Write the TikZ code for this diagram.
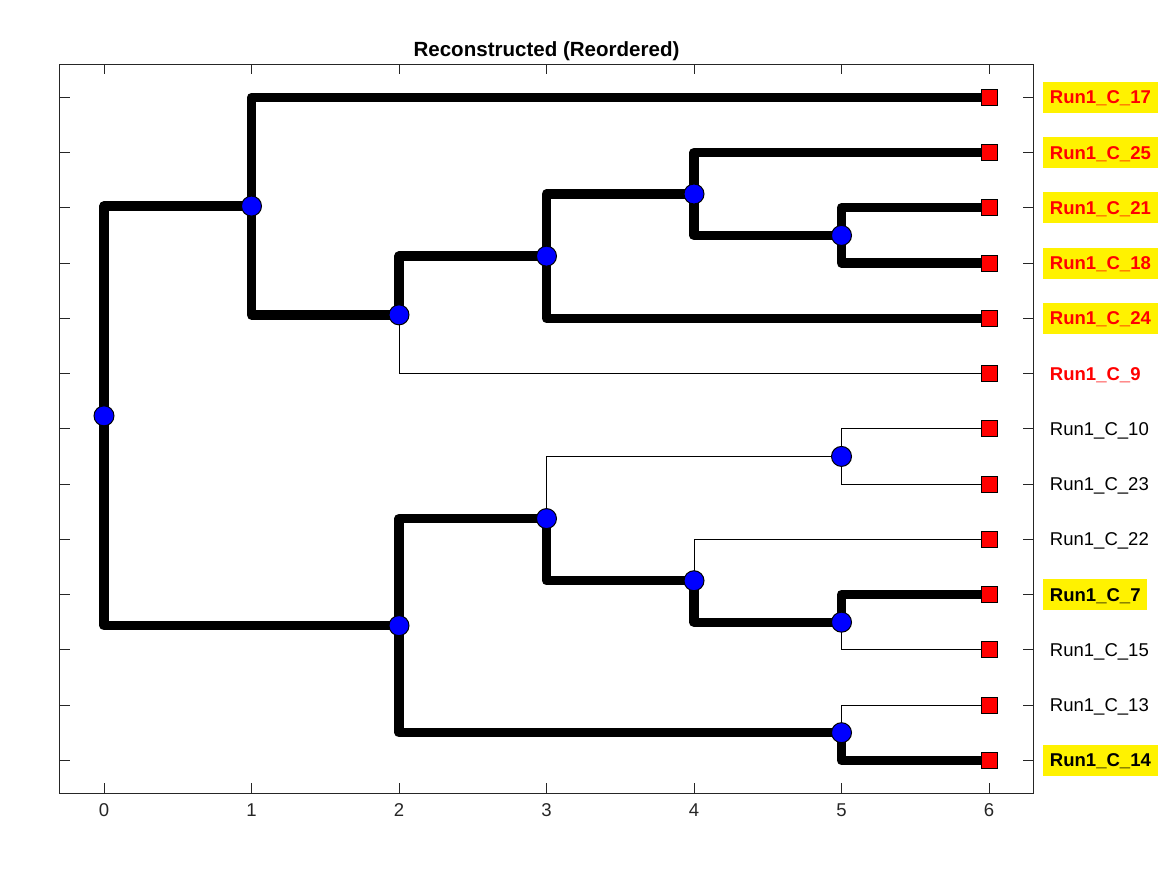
\documentclass[tikz,border=0pt]{standalone}
\usepackage{fontspec}
\setmainfont{Liberation Sans}
\usetikzlibrary{backgrounds}
\definecolor{axisgray}{rgb}{0.15,0.15,0.15}
\tikzset{
  inner/.style={circle,draw=black,fill=blue,line width=0.75pt,minimum size=15pt,inner sep=0pt},
  leaf/.style={rectangle,draw=black,fill=red,line width=0.75pt,minimum size=12pt,inner sep=0pt},
  boldedge/.style={line width=7pt,line join=round,line cap=round,draw=black},
  thinedge/.style={line width=0.75pt,draw=black},
  lab/.style={anchor=west,font=\fontsize{13.9}{16}\selectfont,text height=9.95pt,text depth=0pt,
    minimum height=23.25pt,inner xsep=5pt,inner ysep=0pt},
  hl/.style={fill=yellow},
  redlab/.style={text=red,font=\fontsize{13.9}{16}\selectfont\bfseries},
  boldlab/.style={font=\fontsize{13.9}{16}\selectfont\bfseries},
  axisline/.style={draw=axisgray,line width=0.75pt},
  ticklab/.style={anchor=base,font=\fontsize{13.9}{16}\selectfont,text=axisgray,inner sep=0pt},
  titlelab/.style={anchor=base,font=\fontsize{15.4}{18}\selectfont\bfseries,inner sep=0pt}
}
\begin{document}
\begin{tikzpicture}[x=0.75pt,y=-0.75pt]
\useasboundingbox (0,0) rectangle (1167,875);
\begin{pgfonlayer}{background}
  \fill[white] (0,0) rectangle (1167,875);
\end{pgfonlayer}
\begin{scope}[shift={(104,42.05)},x=110.625pt,y=-41.4375pt]
  % axes frame
  \draw[axisline] (-0.3,0.4) rectangle (6.3,13.6);
  \foreach \r in {1,...,13} {
    \draw[axisline] (-0.3,\r) -- ++(7.5pt,0);
    \draw[axisline] (6.3,\r) -- ++(-7.5pt,0);
  }
  \foreach \d in {0,...,6} {
    \draw[axisline] (\d,13.6) -- ++(0,7.5pt);
    \draw[axisline] (\d,0.4) -- ++(0,-7.5pt);
    \node[ticklab] (xt\d) at ([yshift=-17.6pt]\d,13.6) {\d};
  }
  \node[titlelab] (title) at ([yshift=6pt]3,0.4) {Reconstructed (Reordered)};

  % internal nodes
  \node[inner] (R) at (0,6.765625) {};
  \node[inner] (A) at (1,2.96875) {};
  \node[inner] (B) at (2,4.9375) {};
  \node[inner] (C) at (3,3.875) {};
  \node[inner] (D) at (4,2.75) {};
  \node[inner] (E) at (5,3.5) {};
  \node[inner] (F) at (2,10.5625) {};
  \node[inner] (G) at (3,8.625) {};
  \node[inner] (H) at (5,12.5) {};
  \node[inner] (I) at (5,7.5) {};
  \node[inner] (J) at (4,9.75) {};
  \node[inner] (K) at (5,10.5) {};
  % leaves
  \foreach \r in {1,...,13} { \node[leaf] (L\r) at (6,\r) {}; }

  % labels
  \node[lab,hl,redlab] (T1) at (6.366,1) {Run1\_C\_17};
  \node[lab,hl,redlab] (T2) at (6.366,2) {Run1\_C\_25};
  \node[lab,hl,redlab] (T3) at (6.366,3) {Run1\_C\_21};
  \node[lab,hl,redlab] (T4) at (6.366,4) {Run1\_C\_18};
  \node[lab,hl,redlab] (T5) at (6.366,5) {Run1\_C\_24};
  \node[lab,redlab] (T6) at (6.366,6) {Run1\_C\_9};
  \node[lab] (T7) at (6.366,7) {Run1\_C\_10};
  \node[lab] (T8) at (6.366,8) {Run1\_C\_23};
  \node[lab] (T9) at (6.366,9) {Run1\_C\_22};
  \node[lab,hl,boldlab] (T10) at (6.366,10) {Run1\_C\_7};
  \node[lab] (T11) at (6.366,11) {Run1\_C\_15};
  \node[lab] (T12) at (6.366,12) {Run1\_C\_13};
  \node[lab,hl,boldlab] (T13) at (6.366,13) {Run1\_C\_14};

  \begin{pgfonlayer}{background}
    % thin branches
    \draw[thinedge] (B.center) |- (L6.center);
    \draw[thinedge] (G.center) |- (I.center);
    \draw[thinedge] (I.center) |- (L7.center);
    \draw[thinedge] (I.center) |- (L8.center);
    \draw[thinedge] (J.center) |- (L9.center);
    \draw[thinedge] (K.center) |- (L11.center);
    \draw[thinedge] (H.center) |- (L12.center);
    % bold branches
    \draw[boldedge] (R.center) |- (A.center);
    \draw[boldedge] (R.center) |- (F.center);
    \draw[boldedge] (A.center) |- (L1.center);
    \draw[boldedge] (A.center) |- (B.center);
    \draw[boldedge] (B.center) |- (C.center);
    \draw[boldedge] (C.center) |- (D.center);
    \draw[boldedge] (C.center) |- (L5.center);
    \draw[boldedge] (D.center) |- (L2.center);
    \draw[boldedge] (D.center) |- (E.center);
    \draw[boldedge] (E.center) |- (L3.center);
    \draw[boldedge] (E.center) |- (L4.center);
    \draw[boldedge] (F.center) |- (G.center);
    \draw[boldedge] (F.center) |- (H.center);
    \draw[boldedge] (G.center) |- (J.center);
    \draw[boldedge] (J.center) |- (K.center);
    \draw[boldedge] (K.center) |- (L10.center);
    \draw[boldedge] (H.center) |- (L13.center);
  \end{pgfonlayer}
\end{scope}
\end{tikzpicture}
\end{document}
